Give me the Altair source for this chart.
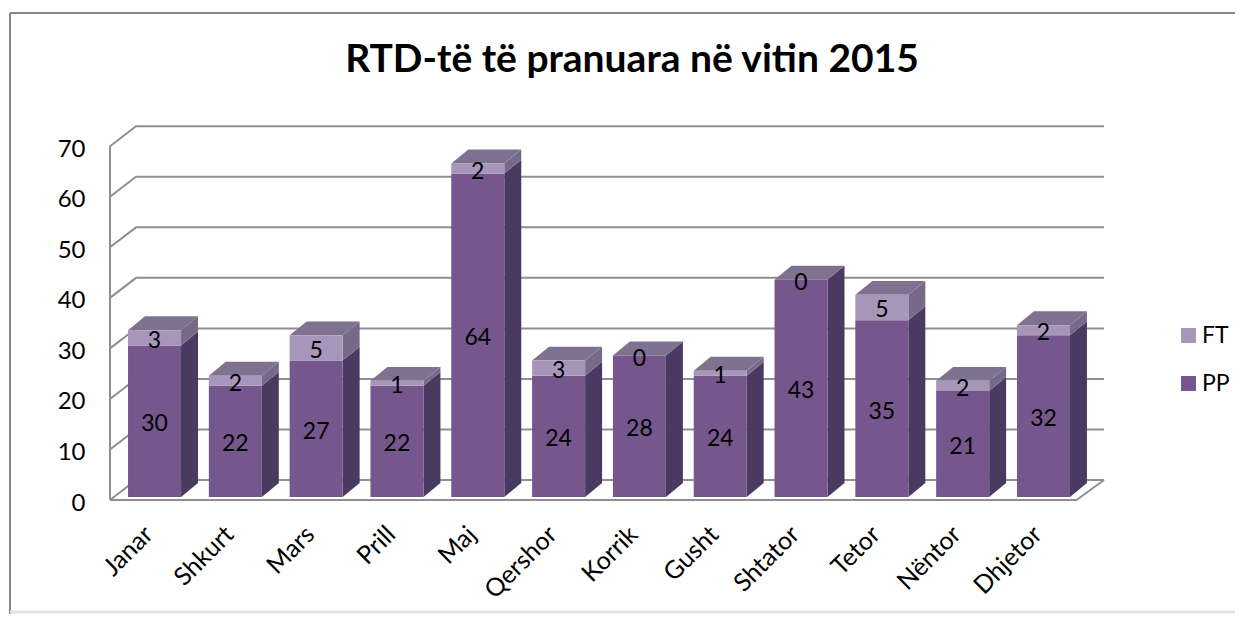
import altair as alt
import pandas as pd

months = ["Janar","Shkurt","Mars","Prill","Maj","Qershor","Korrik","Gusht","Shtator","Tetor","Nëntor","Dhjetor"]
pp = [30,22,27,22,64,24,28,24,43,35,21,32]
ft = [3,2,5,1,2,3,0,1,0,5,2,2]
ticks = [0,10,20,30,40,50,60,70]
title_text = "RTD-të të pranuara në vitin 2015"

FONT = "Lato"
GRID = "#8f8f8f"
C_PP, C_FT = "#75578D", "#A795BA"
S_PP, S_FT = "#4A3960", "#776A88"
C_TOP = "#7F7290"

X_MAX, Y_MAX = 12.3, 74
WALL_X, WALL_Y = 0.322, 3.95     # depth of the chart box, in scale units
BAR_L, BAR_W = 0.223, 0.656
BAR_DX, BAR_DY = 0.21, 2.75      # depth of a bar
LIFT = 0.59
FLOOR_R = 11.96

xs = alt.Scale(domain=[0, X_MAX], nice=False, zero=False)
ys = alt.Scale(domain=[0, Y_MAX], nice=False, zero=False)

grid, front, side, top, labels = [], [], [], [], []
for v in ticks:
    grid += [dict(k=f"g{v}", o=0, x=0, y=v), dict(k=f"g{v}", o=1, x=WALL_X, y=v+WALL_Y), dict(k=f"g{v}", o=2, x=X_MAX, y=v+WALL_Y)]
grid += [dict(k="axis", o=0, x=0, y=0), dict(k="axis", o=1, x=0, y=70)]
grid += [dict(k="floor", o=0, x=0, y=0), dict(k="floor", o=1, x=FLOOR_R, y=0), dict(k="floor", o=2, x=X_MAX, y=WALL_Y)]

for i, m in enumerate(months):
    x0 = i + BAR_L
    x1 = x0 + BAR_W
    a, b, c = LIFT, LIFT + pp[i], LIFT + pp[i] + ft[i]
    front.append(dict(x=x0, x2=x1, y=a, y2=b, s="PP"))
    labels.append(dict(x=x0+BAR_W/2, y=(a+b)/2, t=str(pp[i])))
    side += [dict(k=f"{i}p", x=x1, y=a, y2=b, c=S_PP), dict(k=f"{i}p", x=x1+BAR_DX, y=a+BAR_DY, y2=b+BAR_DY, c=S_PP)]
    if ft[i]:
        front.append(dict(x=x0, x2=x1, y=b, y2=c, s="FT"))
        side += [dict(k=f"{i}f", x=x1, y=b, y2=c, c=S_FT), dict(k=f"{i}f", x=x1+BAR_DX, y=b+BAR_DY, y2=c+BAR_DY, c=S_FT)]
    labels.append(dict(x=x0+BAR_W/2, y=(b+c)/2, t=str(ft[i])))
    top += [dict(k=i, x=x0, x2=x1, y=c), dict(k=i, x=x0+BAR_DX, x2=x1+BAR_DX, y=c+BAR_DY)]

names = "[" + ",".join(f"'{m}'" for m in months) + "]"
LABEL_SHIFT = 0.25
label_pos = [i + BAR_L + LABEL_SHIFT for i in range(12)]

grid_l = alt.Chart(pd.DataFrame(grid)).mark_line(color=GRID, strokeWidth=2, clip=False).encode(
    x=alt.X("x:Q", scale=xs, title=None, axis=alt.Axis(
        values=label_pos, labelExpr=f"{names}[round(datum.value - {BAR_L + LABEL_SHIFT})]",
        labelAngle=-45, labelAlign="right", labelBaseline="middle", labelFont=FONT, labelFontSize=25,
        labelColor="black", domain=False, ticks=False, grid=False, labelPadding=30, labelOverlap=False, labelFlush=False)),
    y=alt.Y("y:Q", scale=ys, title=None, axis=alt.Axis(
        values=ticks, labelFont=FONT, labelFontSize=24, labelColor="black", domain=False, ticks=False,
        grid=False, labelPadding=25, labelOverlap=False, labelOffset=3)),
    detail="k:N", order="o:Q")

side_l = alt.Chart(pd.DataFrame(side)).mark_area().encode(
    x=alt.X("x:Q", scale=xs), y=alt.Y("y:Q", scale=ys), y2="y2:Q", detail="k:N",
    fill=alt.Fill("c:N", scale=None))
top_l = alt.Chart(pd.DataFrame(top)).mark_area(orient="horizontal", color=C_TOP).encode(
    x=alt.X("x:Q", scale=xs), x2="x2:Q", y=alt.Y("y:Q", scale=ys), detail="k:N")
front_l = alt.Chart(pd.DataFrame(front)).mark_rect().encode(
    x=alt.X("x:Q", scale=xs), x2="x2:Q", y=alt.Y("y:Q", scale=ys), y2="y2:Q",
    color=alt.Color("s:N", scale=alt.Scale(domain=["FT","PP"], range=[C_FT, C_PP]), title=None, legend=alt.Legend(
        orient="none", legendX=1067, legendY=198, symbolType="square", symbolSize=225, symbolStrokeWidth=0,
        labelFont=FONT, labelFontSize=23, labelColor="black", rowPadding=24, labelOffset=2)))
text_l = alt.Chart(pd.DataFrame(labels)).mark_text(font=FONT, fontSize=23, color="black", baseline="middle", dy=3).encode(
    x=alt.X("x:Q", scale=xs), y=alt.Y("y:Q", scale=ys), text="t:N")

one = pd.DataFrame({"a":[0]})
frame = alt.layer(
    alt.Chart(one).mark_rule(color="#868686", strokeWidth=2).encode(x=alt.value(-100), y=alt.value(-113), y2=alt.value(488)),
    alt.Chart(one).mark_rule(color="#868686", strokeWidth=2).encode(y=alt.value(-113), x=alt.value(-100), x2=alt.value(1125)),
    alt.Chart(one).mark_rule(color="#e2e2e2", strokeWidth=3).encode(y=alt.value(486), x=alt.value(-100), x2=alt.value(1125)),
)
title_l = alt.Chart(pd.DataFrame({"t":[title_text]})).mark_text(
    font=FONT, fontSize=39, fontWeight="bold", color="black", baseline="middle", align="center").encode(
    x=alt.value(522), y=alt.value(-66), text="t:N")

chart = alt.layer(frame, title_l, grid_l, side_l, top_l, front_l, text_l).properties(
    width=994, height=374,
    autosize=alt.AutoSizeParams(type="none"),
    padding={"left":102,"top":118,"right":131,"bottom":114},
    background="white",
).configure_view(stroke=None)

chart.save("out.html", embed_options={"renderer": "svg", "actions": False})
